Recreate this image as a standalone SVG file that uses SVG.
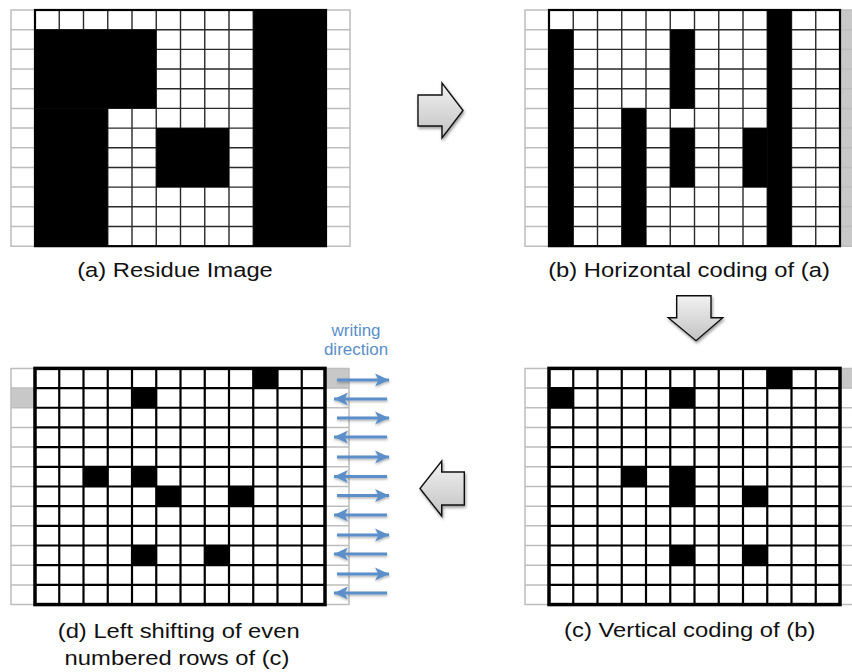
<svg xmlns="http://www.w3.org/2000/svg" width="852" height="672" viewBox="0 0 852 672">
<style>
.bg{fill:#fff}
.blk{fill:#000}
.side{fill:none;stroke:#bdbdbd;stroke-width:1.5}
.sidefill{fill:#c8c8c8}
.thin{fill:none;stroke:#2a2a2a;stroke-width:1.4}
.thick{fill:none;stroke:#000;stroke-width:2.2}
.border1{fill:none;stroke:#000;stroke-width:2.2}
.border2{fill:none;stroke:#000;stroke-width:3.5}
.lbl{font-family:"Liberation Sans",Arial,Helvetica,sans-serif;font-size:19.5px;fill:#111;text-anchor:middle}
.wd{font-family:"Liberation Sans",Arial,Helvetica,sans-serif;font-size:16.5px;fill:#5b8fc9;text-anchor:middle}
.big{fill:url(#gg);stroke:#111;stroke-width:1.4;stroke-linejoin:miter;filter:url(#sh)}
.blue{fill:none;stroke:#5b8fc9;stroke-width:3}
</style>
<defs>
<linearGradient id="gg" x1="0" y1="0" x2="0" y2="1">
<stop offset="0" stop-color="#f2f2f2"/>
<stop offset="1" stop-color="#c2c2c2"/>
</linearGradient>
<filter id="sh" x="-30%" y="-30%" width="160%" height="160%">
<feDropShadow dx="1" dy="2" stdDeviation="1.5" flood-color="#000" flood-opacity="0.4"/>
</filter>
<filter id="bsh" x="-20%" y="-100%" width="140%" height="300%">
<feDropShadow dx="0.5" dy="1.5" stdDeviation="0.8" flood-color="#000" flood-opacity="0.3"/>
</filter>
<marker id="bh" markerUnits="userSpaceOnUse" markerWidth="16" markerHeight="14" viewBox="-15 -7 16 14" refX="0" refY="0" orient="auto">
<path d="M0 0L-14 -6.5L-10.5 0L-14 6.5Z" fill="#5b8fc9"/>
</marker>
<path id="glines" d="M24.25 0V236.16M48.5 0V236.16M72.75 0V236.16M97 0V236.16M121.25 0V236.16M145.5 0V236.16M169.75 0V236.16M194 0V236.16M218.25 0V236.16M242.5 0V236.16M266.75 0V236.16M0 19.68H291M0 39.36H291M0 59.04H291M0 78.72H291M0 98.4H291M0 118.08H291M0 137.76H291M0 157.44H291M0 177.12H291M0 196.8H291M0 216.48H291"/>
<path id="scol" d="M0 0H24V236.16H0ZM0 19.68H24M0 39.36H24M0 59.04H24M0 78.72H24M0 98.4H24M0 118.08H24M0 137.76H24M0 157.44H24M0 177.12H24M0 196.8H24M0 216.48H24"/>
<rect id="cell" width="24.25" height="19.68"/>
</defs>

<g id="panel-a">
<use href="#scol" class="side" x="11" y="10"/>
<use href="#scol" class="side" x="326" y="10"/>
<g transform="translate(35,10)">
<rect class="bg" width="291" height="236.16"/>
<use href="#glines" class="thin"/>
<rect class="blk" x="218.25" y="0" width="72.75" height="236.16"/>
<rect class="blk" x="0" y="19.68" width="121.25" height="78.72"/>
<rect class="blk" x="0" y="98.4" width="72.75" height="137.76"/>
<rect class="blk" x="121.25" y="118.08" width="72.75" height="59.04"/>
<rect class="border1" width="291" height="236.16"/>
</g>
<text class="lbl" transform="translate(175,277.3) scale(1.22,1)">(a) Residue Image</text>
</g>

<g id="panel-b">
<rect class="sidefill" x="840" y="10" width="24" height="236.16"/>
<use href="#scol" class="side" x="525" y="10"/>
<use href="#scol" class="side" x="840" y="10"/>
<g transform="translate(549,10)">
<rect class="bg" width="291" height="236.16"/>
<use href="#glines" class="thin"/>
<rect class="blk" x="218.25" y="0" width="24.25" height="236.16"/>
<rect class="blk" x="0" y="19.68" width="24.25" height="216.48"/>
<rect class="blk" x="121.25" y="19.68" width="24.25" height="78.72"/>
<rect class="blk" x="72.75" y="98.4" width="24.25" height="137.76"/>
<rect class="blk" x="121.25" y="118.08" width="24.25" height="59.04"/>
<rect class="blk" x="194" y="118.08" width="24.25" height="59.04"/>
<rect class="border1" width="291" height="236.16"/>
</g>
<text class="lbl" transform="translate(689,277.3) scale(1.22,1)">(b) Horizontal coding of (a)</text>
</g>

<g id="panel-c">
<rect class="sidefill" x="840" y="368.4" width="24" height="19.68"/>
<use href="#scol" class="side" x="525" y="368.4"/>
<use href="#scol" class="side" x="840" y="368.4"/>
<g transform="translate(549,368.4)">
<rect class="bg" width="291" height="236.16"/>
<use href="#cell" class="blk" x="218.25" y="0"/>
<use href="#cell" class="blk" x="0" y="19.68"/>
<use href="#cell" class="blk" x="121.25" y="19.68"/>
<use href="#cell" class="blk" x="72.75" y="98.4"/>
<use href="#cell" class="blk" x="121.25" y="98.4"/>
<use href="#cell" class="blk" x="121.25" y="118.08"/>
<use href="#cell" class="blk" x="194" y="118.08"/>
<use href="#cell" class="blk" x="121.25" y="177.12"/>
<use href="#cell" class="blk" x="194" y="177.12"/>
<use href="#glines" class="thick"/>
<rect class="border2" width="291" height="236.16"/>
</g>
<text class="lbl" transform="translate(689.7,637.3) scale(1.22,1)">(c) Vertical coding of (b)</text>
</g>

<g id="panel-d">
<rect class="sidefill" x="11" y="388.08" width="24" height="19.68"/>
<rect class="sidefill" x="325" y="368.4" width="24" height="19.68"/>
<use href="#scol" class="side" x="11" y="368.4"/>
<use href="#scol" class="side" x="325" y="368.4"/>
<g transform="translate(35,368.4)">
<rect class="bg" width="291" height="236.16"/>
<use href="#cell" class="blk" x="218.25" y="0"/>
<use href="#cell" class="blk" x="97" y="19.68"/>
<use href="#cell" class="blk" x="48.5" y="98.4"/>
<use href="#cell" class="blk" x="97" y="98.4"/>
<use href="#cell" class="blk" x="121.25" y="118.08"/>
<use href="#cell" class="blk" x="194" y="118.08"/>
<use href="#cell" class="blk" x="97" y="177.12"/>
<use href="#cell" class="blk" x="169.75" y="177.12"/>
<use href="#glines" class="thick"/>
<rect class="border2" width="290" height="236.16"/>
</g>
<text class="lbl" transform="translate(178.7,638.3) scale(1.22,1)">(d) Left shifting of even</text>
<text class="lbl" transform="translate(177,665) scale(1.22,1)">numbered rows of (c)</text>
</g>

<g id="writing-direction">
<text class="wd" transform="translate(356,336) scale(1.03,1)">writing</text>
<text class="wd" transform="translate(356,355) scale(1.03,1)">direction</text>
<g class="blue" marker-end="url(#bh)" filter="url(#bsh)">
<path d="M337 380H389"/>
<path d="M387 399H334"/>
<path d="M337 418H389"/>
<path d="M387 437H334"/>
<path d="M337 457H389"/>
<path d="M387 476.5H334"/>
<path d="M337 495.5H389"/>
<path d="M387 515H334"/>
<path d="M337 535H389"/>
<path d="M387 554H334"/>
<path d="M337 574H389"/>
<path d="M387 593H334"/>
</g>
</g>

<g id="connectors">
<path class="big" d="M418 95H442V83L463 110.5L442 138V126H418Z"/>
<path class="big" d="M676.7 295.7H711V317.7H722.7L696 340.7L668.3 317.7H676.7Z"/>
<path class="big" d="M464.3 472H441.7V461L420 488.5L441.7 516V505H464.3Z"/>
</g>
</svg>
